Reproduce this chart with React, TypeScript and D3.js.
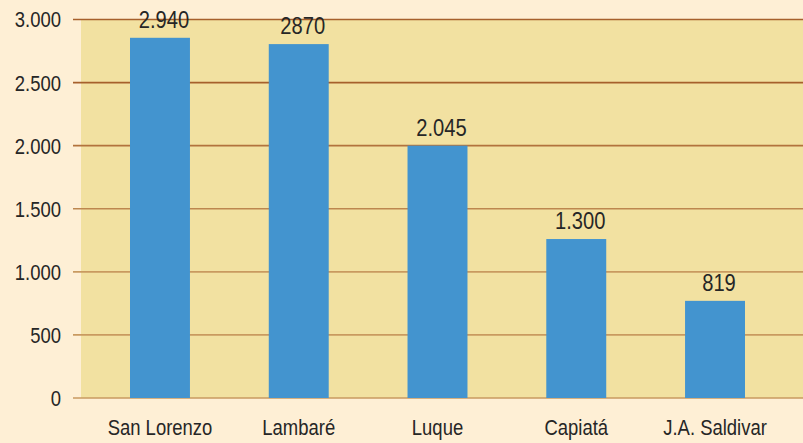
import { useEffect, useRef } from 'react';
import * as d3 from 'd3';

// categories and values
const categories = ['San Lorenzo', 'Lambaré', 'Luque', 'Capiatá', 'J.A. Saldivar'];
const barValues = [2855, 2805, 2000, 1260, 770];
const valueLabels = ['2.940', '2870', '2.045', '1.300', '819'];
const yTicks = [0, 500, 1000, 1500, 2000, 2500, 3000];
const yTickLabels = ['0', '500', '1.000', '1.500', '2.000', '2.500', '3.000'];

// condensed look: Liberation Sans squeezed horizontally
const FONT = "'Liberation Sans', Arial, sans-serif";
const SQUEEZE = 0.84;

const App = () => {
  const svgRef = useRef<SVGSVGElement>(null);

  useEffect(() => {
    const width = 803;
    const height = 443;
    const plotLeft = 81;
    const plotTop = 19.5;
    const plotBottom = 398;

    const svg = d3.select(svgRef.current);
    svg.selectAll('*').remove();
    svg.attr('width', width).attr('height', height);

    // page background
    svg.append('rect')
      .attr('width', width)
      .attr('height', height)
      .attr('fill', '#FEEFD5');

    const xScale = d3.scaleBand<string>()
      .domain(categories)
      .range([90.6, 784.4])
      .paddingInner(0.568)
      .paddingOuter(0.284);

    const yScale = d3.scaleLinear()
      .domain([0, 3000])
      .range([plotBottom, plotTop]);

    // plot area
    svg.append('rect')
      .attr('x', plotLeft)
      .attr('y', plotTop)
      .attr('width', width - plotLeft)
      .attr('height', plotBottom - plotTop)
      .attr('fill', '#F2E1A1');

    // grid lines fade from dark brown at the top to tan at the bottom
    const gridColor = d3.scaleLinear<string>()
      .domain([0, 1000, 2500, 3000])
      .range(['#C99A60', '#C99A60', '#A6602C', '#A6602C']);

    svg.append('g')
      .selectAll('line')
      .data(yTicks)
      .join('line')
      .attr('x1', 73)
      .attr('x2', width)
      .attr('y1', d => yScale(d))
      .attr('y2', d => yScale(d))
      .attr('stroke', d => gridColor(d))
      .attr('stroke-width', 1.7);

    svg.append('g')
      .selectAll('text')
      .data(yTicks)
      .join('text')
      .attr('transform', d => `translate(61,${yScale(d)}) scale(${SQUEEZE},1)`)
      .attr('dy', '0.36em')
      .attr('text-anchor', 'end')
      .attr('font-family', FONT)
      .attr('font-size', 22)
      .attr('fill', '#262626')
      .text((d, i) => yTickLabels[i]);

    // bars
    svg.append('g')
      .selectAll('rect')
      .data(barValues)
      .join('rect')
      .attr('x', (d, i) => xScale(categories[i])!)
      .attr('y', d => yScale(d))
      .attr('width', xScale.bandwidth())
      .attr('height', d => plotBottom - yScale(d))
      .attr('fill', '#4394CF');

    // value labels
    svg.append('g')
      .selectAll('text')
      .data(barValues)
      .join('text')
      .attr('transform', (d, i) =>
        `translate(${xScale(categories[i])! + xScale.bandwidth() / 2 + 4},${yScale(d) - 10}) scale(${SQUEEZE},1)`)
      .attr('text-anchor', 'middle')
      .attr('font-family', FONT)
      .attr('font-size', 24)
      .attr('fill', '#262626')
      .text((d, i) => valueLabels[i]);

    // category labels
    svg.append('g')
      .selectAll('text')
      .data(categories)
      .join('text')
      .attr('transform', d => `translate(${xScale(d)! + xScale.bandwidth() / 2},435) scale(${SQUEEZE},1)`)
      .attr('text-anchor', 'middle')
      .attr('font-family', FONT)
      .attr('font-size', 22)
      .attr('fill', '#262626')
      .text(d => d);
  }, []);

  return (
    <svg ref={svgRef} style={{ position: 'absolute', left: 0, top: 0 }}></svg>
  );
};

export default App;
